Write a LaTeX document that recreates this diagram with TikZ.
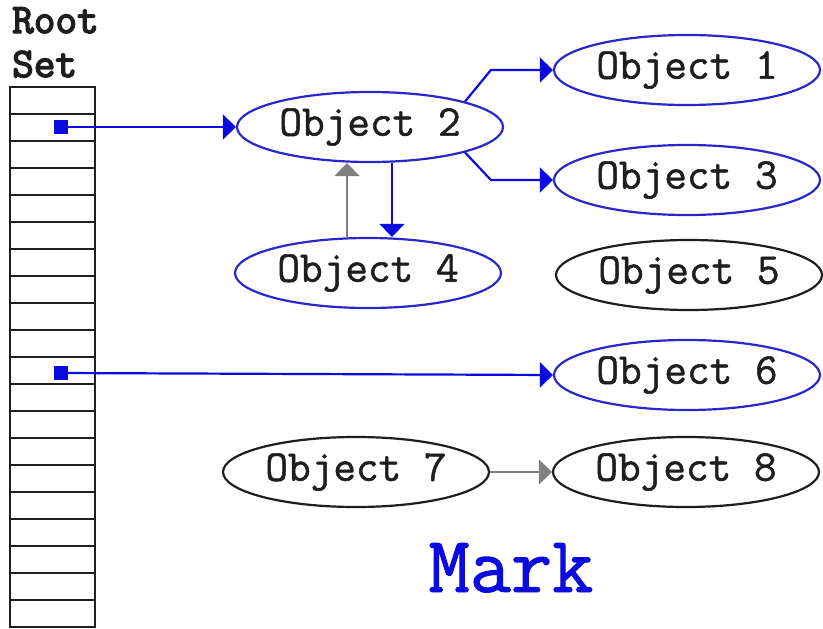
\documentclass[tikz,border=0pt]{standalone}
\usepackage{fontspec}
\newfontfamily\objfont{Latin Modern Mono}[FakeBold=1.2]
\newfontfamily\hdrfont{Latin Modern Mono}[FakeBold=3.5]
\usetikzlibrary{shapes.geometric,arrows.meta}
\definecolor{eblue}{RGB}{40,40,200}
\definecolor{ablue}{RGB}{10,10,225}
\definecolor{agray}{RGB}{128,128,128}
\definecolor{ink}{RGB}{30,30,30}
\tikzset{
  obj/.style={ellipse, draw=eblue, line width=2.2pt, minimum width=266pt, minimum height=70pt, inner sep=0pt, font=\objfont\fontsize{44}{46}\selectfont, text=ink},
  objk/.style={obj, draw=ink},
  tipa/.style={-{Triangle[length=13pt,width=25pt]}},
  barrow/.style={tipa, draw=ablue, line width=2.2pt},
  garrow/.style={tipa, draw=agray, line width=2.2pt},
  rootsq/.style={fill=ablue, minimum size=14pt, inner sep=0pt},
  hdr/.style={anchor=base west, inner sep=0pt, font=\hdrfont\fontsize{42}{44}\selectfont, text=ink}
}
\begin{document}
\begin{tikzpicture}[x=1pt,y=-1pt]
\useasboundingbox[fill=white] (0,0) rectangle (823,629);
% root set header
\node[hdr] (root) at (12,33) {Root};
\node[hdr] (set) at (12,77) {Set};
% stack
\draw[ink, line width=2.2pt] (10,87) rectangle (95,627);
\foreach \i in {1,...,19} {
  \draw[ink, line width=2.2pt] (10,87+27*\i) -- (95,87+27*\i);
}
\node[rootsq] (r1) at (61,127) {};
\node[rootsq] (r10) at (61,373) {};
% objects
\node[obj] (o2) at (370,127) {Object 2};
\node[obj] (o1) at (687,70) {Object 1};
\node[obj] (o3) at (687,180) {Object 3};
\node[obj] (o4) at (368,273) {Object 4};
\node[objk] (o5) at (689,275) {Object 5};
\node[obj] (o6) at (687,375) {Object 6};
\node[objk] (o7) at (356,472) {Object 7};
\node[objk] (o8) at (686,472) {Object 8};
% connectors
\draw[barrow] (r1.center) -- (o2.west);
\draw[barrow] (r10.center) -- (o6.west);
\draw[barrow] (o2.15) -- ([xshift=-62pt]o1.west) -- (o1.west);
\draw[barrow] (o2.-15) -- ([xshift=-62pt]o3.west) -- (o3.west);
\draw[barrow] ([xshift=22pt]o2.south) -- ([xshift=22pt]o2.south |- o4.north);
\draw[garrow] ([xshift=-23pt]o2.south |- o4.north) -- ([xshift=-23pt]o2.south);
\draw[garrow] (o7.east) -- (o8.west);
% title
\node[anchor=base, inner sep=0pt, font=\objfont\fontsize{80}{82}\selectfont, text=ablue] (mark) at (511,592) {Mark};
\end{tikzpicture}
\end{document}
